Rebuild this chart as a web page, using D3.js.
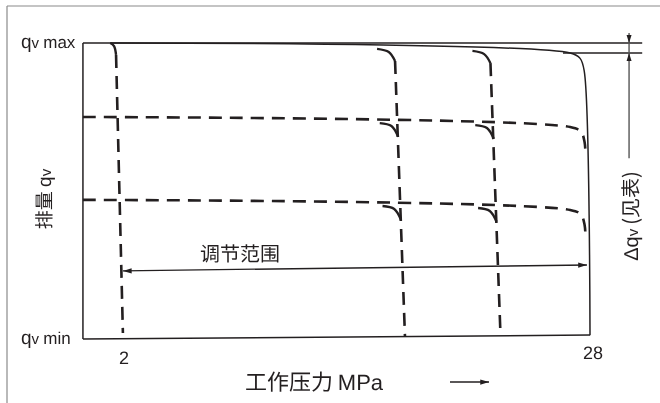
<!DOCTYPE html>
<html>
<head>
<meta charset="utf-8">
<script src="https://cdn.jsdelivr.net/npm/d3@7"></script>
<style>
  body { margin: 0; background: #fff; }
  svg { display: block; will-change: transform; }
  text { fill: #231f20; font-family: "Liberation Sans", Arial, sans-serif; text-rendering: geometricPrecision; }
  .cjk { font-family: "Noto Sans CJK SC", sans-serif; }
</style>
</head>
<body>
<div id="chart"></div>
<script>
// values: pressure in MPa, displacement as share of qv max
const tickP = [2, 28];
const maxCurveP = [1.35, 26.9, 27.45, 27.68, 28.0];
const maxCurveQ = [1.0, 0.966, 0.948, 0.905, 0.013];
const levelQ = [0.75, 0.47];
const levelCurveP = [-0.17, 26.9, 27.5, 27.7, 27.75];
const levelCurveDrop = [0, 0.034, 0.05, 0.085, 0.13];
const cutoffTopP = [1.67, 17.17, 22.47];
const cutoffBottomP = [2.05, 17.72, 23.03];
const cutoffBottomQ = [0.02, 0.009, 0.01];
const hookLen = [0.32, 1.0, 1.0];
const baseP = [-0.17, 28];
const baseQ = [0, 0.0135];
const rangeP = [2.05, 27.83];
const rangeQ = [0.23, 0.25];
const deltaQ = [1.0, 0.966];
const deltaP = 30.17;
const extEndP = 30.9;

const width = 660, height = 403;
const ink = "#231f20";

const svg = d3.select("#chart").append("svg")
  .attr("width", width)
  .attr("height", height);

const x = d3.scaleLinear().domain([0, 28]).range([86, 590]);
const y = d3.scaleLinear().domain([0, 1]).range([339, 43]);

const line = d3.line()
  .x(d => x(d[0]))
  .y(d => y(d[1]))
  .curve(d3.curveCatmullRom.alpha(0.5));

// arrow marker
svg.append("defs").append("marker")
  .attr("id", "arr")
  .attr("viewBox", "0 -4 10 8")
  .attr("refX", 10).attr("refY", 0)
  .attr("markerWidth", 9).attr("markerHeight", 7)
  .attr("markerUnits", "userSpaceOnUse")
  .attr("orient", "auto-start-reverse")
  .append("path")
  .attr("d", "M0,-3L10,0L0,3Z")
  .attr("fill", ink);

// outer frame (left + top only)
svg.append("line").attr("x1", 7).attr("y1", 6).attr("x2", 7).attr("y2", height)
  .attr("stroke", "#8a8a8a").attr("stroke-width", 1.2);
svg.append("line").attr("x1", 7).attr("y1", 6).attr("x2", width).attr("y2", 6)
  .attr("stroke", "#8a8a8a").attr("stroke-width", 1.2);

const g = svg.append("g");

// box: left edge, top (extended as dimension line), bottom
g.append("line")
  .attr("x1", x(baseP[0])).attr("y1", y(0))
  .attr("x2", x(baseP[0])).attr("y2", y(1))
  .attr("stroke", ink).attr("stroke-width", 1.5);
g.append("line")
  .attr("x1", x(baseP[0])).attr("y1", y(1))
  .attr("x2", x(extEndP)).attr("y2", y(1))
  .attr("stroke", ink).attr("stroke-width", 1.5);
g.append("path")
  .attr("d", line(d3.zip(baseP, baseQ)))
  .attr("fill", "none").attr("stroke", ink).attr("stroke-width", 1.5);

// max displacement curve
g.append("path")
  .attr("d", line(d3.zip(maxCurveP, maxCurveQ)))
  .attr("fill", "none").attr("stroke", ink).attr("stroke-width", 1.5);

// extension of the curve level for Δqv
g.append("line")
  .attr("x1", x(26.5)).attr("y1", y(deltaQ[1]))
  .attr("x2", x(extEndP)).attr("y2", y(deltaQ[1]))
  .attr("stroke", ink).attr("stroke-width", 1.5);

// helpers
const maxQAt = p => d3.scaleLinear().domain([maxCurveP[0], maxCurveP[1]])
  .range([maxCurveQ[0], maxCurveQ[1]])(p);
const levelAt = (q0, p) => q0 - d3.scaleLinear().domain([levelCurveP[0], levelCurveP[1]])
  .range([0, levelCurveDrop[1]])(p);
const cutoffAt = (i, q) => cutoffBottomP[i] + (cutoffTopP[i] - cutoffBottomP[i]) * q;

// part-load levels (dashed)
levelQ.forEach(q0 => {
  g.append("path")
    .attr("d", line(levelCurveP.map((p, k) => [p, q0 - levelCurveDrop[k]])))
    .attr("fill", "none").attr("stroke", ink)
    .attr("stroke-width", 2.6).attr("stroke-dasharray", "13,8");
});

// pressure cut-off lines with their bends
cutoffTopP.forEach((pt, i) => {
  const qTop = maxQAt(pt) - 0.04;
  g.append("line")
    .attr("x1", x(pt)).attr("y1", y(qTop))
    .attr("x2", x(cutoffBottomP[i])).attr("y2", y(cutoffBottomQ[i]))
    .attr("stroke", ink).attr("stroke-width", 2.6)
    .attr("stroke-dasharray", "13,8");

  // bend from the max curve
  const hl = hookLen[i];
  const hook0 = [
    [pt - hl, maxQAt(pt - hl)],
    [pt - hl * 0.35, maxQAt(pt - hl * 0.35) - 0.01],
    [pt, qTop]
  ];
  g.append("path").attr("d", line(hook0))
    .attr("fill", "none").attr("stroke", ink).attr("stroke-width", 2.4);

  if (i === 0) return;
  levelQ.forEach(q0 => {
    const pv = cutoffAt(i, levelAt(q0, pt));
    const hook = [
      [pv - hl, levelAt(q0, pv - hl)],
      [pv - hl * 0.35, levelAt(q0, pv - hl * 0.35) - 0.009],
      [cutoffAt(i, levelAt(q0, pv) - 0.045), levelAt(q0, pv) - 0.045]
    ];
    g.append("path").attr("d", line(hook))
      .attr("fill", "none").attr("stroke", ink).attr("stroke-width", 2.4);
  });
});

// adjustment range arrow
g.append("line")
  .attr("x1", x(rangeP[0])).attr("y1", y(rangeQ[0]))
  .attr("x2", x(rangeP[1])).attr("y2", y(rangeQ[1]))
  .attr("stroke", ink).attr("stroke-width", 1.3)
  .attr("marker-start", "url(#arr)").attr("marker-end", "url(#arr)");
g.append("text").attr("class", "cjk")
  .attr("x", 240).attr("y", y(rangeQ[0]) - 10)
  .attr("text-anchor", "middle").attr("font-size", 20)
  .text("调节范围");

// Δqv dimension
const dx = x(deltaP);
g.append("line")
  .attr("x1", dx).attr("y1", y(deltaQ[0]) - 10)
  .attr("x2", dx).attr("y2", y(0.611))
  .attr("stroke", "#555").attr("stroke-width", 1.4);
const tri = (tipY, dir) =>
  `M${dx},${tipY}L${dx - 2.5},${tipY - dir * 8}L${dx + 2.5},${tipY - dir * 8}Z`;
g.append("path").attr("d", tri(y(deltaQ[0]), 1)).attr("fill", ink);
g.append("path").attr("d", tri(y(deltaQ[1]), -1)).attr("fill", ink);

const dtext = g.append("text")
  .attr("transform", `translate(${dx + 9},${216}) rotate(-90)`)
  .attr("text-anchor", "middle").attr("font-size", 20)
  .style("opacity", 0.999);
dtext.append("tspan").text("Δq");
dtext.append("tspan").attr("font-size", 15).text("v ");
dtext.append("tspan").attr("class", "cjk").text("(见表)");

// pressure tick labels
g.selectAll(".tick").data(tickP).enter().append("text")
  .attr("x", d => x(d) + (d === 28 ? 3 : 2))
  .attr("y", d => d === 28 ? 359 : 364)
  .attr("text-anchor", "middle").attr("font-size", 18)
  .text(d => d);

// displacement labels
[["max", 1], ["min", 0]].forEach(([s, q]) => {
  const t = g.append("text")
    .attr("x", 21).attr("y", y(q) + 5)
    .attr("font-size", 19);
  t.append("tspan").text("q");
  t.append("tspan").attr("font-size", 15).text("v ");
  t.append("tspan").attr("font-size", 17).text(s);
});

// axis titles
const xt = g.append("text").attr("x", 314).attr("y", 390)
  .attr("text-anchor", "middle").attr("font-size", 22);
xt.append("tspan").attr("class", "cjk").text("工作压力 ");
xt.append("tspan").text("MPa");

g.append("line")
  .attr("x1", 450).attr("y1", 382).attr("x2", 489).attr("y2", 382)
  .attr("stroke", ink).attr("stroke-width", 1.3)
  .attr("marker-end", "url(#arr)");

const yt = g.append("text")
  .attr("transform", "translate(51,199) rotate(-90)")
  .attr("text-anchor", "middle").attr("font-size", 19)
  .style("opacity", 0.999);
yt.append("tspan").attr("class", "cjk").text("排量 ");
yt.append("tspan").text("q");
yt.append("tspan").attr("font-size", 15).text("v");
</script>
</body>
</html>
